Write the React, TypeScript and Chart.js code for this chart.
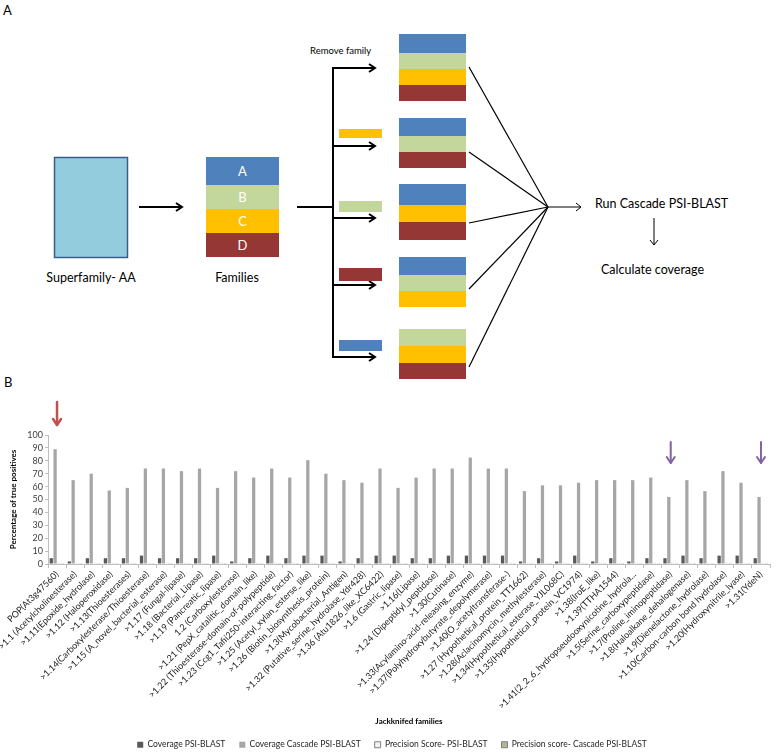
import React, { useEffect, useRef } from 'react';
import { Chart, registerables } from 'chart.js';
Chart.register(...registerables);

const families = [
  'POP(At3g47560)',
  '>1.1 (Acetylcholinesterase)',
  '>1.11(Epoxide_hydrolase)',
  '>1.12 (Haloperoxidase)',
  '>1.13(Thioesterases)',
  '>1.14(Carboxylesterase/Thioesterase)',
  '>1.15 (A_novel_bacterial_esterase)',
  '>1.17 (Fungal-lipase)',
  '>1.18 (Bacterial_Lipase)',
  '>1.19 (Pancreatic_lipase)',
  '1.2 (Carboxylesterase)',
  '>1.21 (PepX_catalitic_domain_like)',
  '>1.22 (Thioesterase-domain-of-polypeptide)',
  '>1.23 (Ccg1_Tafii250-interacting_factor)',
  '>1.25 (Acetyl_xylan_esterse_like)',
  '>1.26 (Biotin_biosynthesis_protein)',
  '>1.3(Mycobacterial_Antigen)',
  '>1.32 (Putative_serine_hydrolase_Ydr428)',
  '>1.36 (Atu1826_like_XC6422)',
  '>1.6 (Gastric_lipase)',
  '>1.16(Lipase)',
  '>1.24 (Dipeptidyl_peptidase)',
  '>1.30(Cutinase)',
  '>1.33(Acylamino-acid-releasing_enzyme)',
  '>1.37(Polyhydroxybutyrate_depolymerase)',
  '>1.40(O_acetyltransferase-)',
  '>1.27 (Hypothetical_protein_TT1662)',
  '>1.28(Aclacinomycin_methylesterase)',
  '>1.34(Hypothetical_esterase_YJL068C)',
  '>1.35(Hypothetical_protein_VC1974)',
  '>1.38(IroE_like)',
  '>1.39(TTHA1544)',
  '>1.41(2_2_6_hydropseudooxynicotine_hydrola...',
  '>1.5(Serine_carboxypeptidase)',
  '>1.7(Proline_iminopeptidase)',
  '>1.8(Haloalkane_dehalogenase)',
  '>1.9(Dienelactone_hydrolase)',
  '>1.10(Carbon-carbon bond hydrolase)',
  '>1.20(Hydroxynitrile_lyase)',
  '>1.31(YdeN)',
];

const coveragePsiBlast = [
  4.5, 2, 4.5, 4.5, 4.5, 6.5, 4.5, 4.5, 4.5, 6.5,
  2, 4.5, 6.5, 4.5, 6.5, 6.5, 2, 4.5, 6.5, 6.5,
  4.5, 4.5, 6.5, 6.5, 6.5, 6.5, 2, 4.5, 2, 6.5,
  2, 4.5, 2, 4.5, 4.5, 6.5, 4.5, 6.5, 6.5, 4.5,
];

const coverageCascade = [
  89, 65, 70, 57, 59, 74, 74, 72, 74, 59,
  72, 67, 74, 67, 80.5, 70, 65, 63, 74, 59,
  67, 74, 74, 82.5, 74, 74, 56.5, 61, 61, 63,
  65, 65, 65, 67, 52, 65, 56.5, 72, 63, 52,
];

const precisionPsiBlast = [
  1, 1, 1, 1, 1, 1, 1, 1, 1, 1,
  1, 1, 1, 1, 1, 1, 1, 1, 1, 1,
  1, 1, 1, 1, 1, 1, 1, 1, 1, 1,
  1, 1, 1, 1, 1, 1, 1, 1, 1, 1,
];

const precisionCascade = [
  0.8, 0.8, 0.8, 0.8, 0.8, 0.8, 0.8, 0.8, 0.8, 0.8,
  0.8, 0.8, 0.8, 0.8, 0.8, 0.8, 0.8, 0.8, 0.8, 0.8,
  0.8, 0.8, 0.8, 0.8, 0.8, 0.8, 0.8, 0.8, 0.8, 0.8,
  0.8, 0.8, 0.8, 0.8, 0.8, 0.8, 0.8, 0.8, 0.8, 0.8,
];

const seriesNames = [
  'Coverage PSI-BLAST',
  'Coverage Cascade PSI-BLAST',
  'Precision Score- PSI-BLAST',
  'Precision score- Cascade PSI-BLAST',
];

const redArrowFamilies = ['POP(At3g47560)'];
const purpleArrowFamilies = ['>1.7(Proline_iminopeptidase)', '>1.31(YdeN)'];

const FONT = 'Lato, "Liberation Sans", Arial, sans-serif';

function Diagram() {
  const arrowHead = (x: number, y: number, key: string, w = 2) => (
    <polyline key={key} points={`${x - 6},${y - 4} ${x},${y} ${x - 6},${y + 4}`} fill="none" stroke="#000" strokeWidth={w} />
  );
  const branchYs = [68, 146, 218, 285, 357];
  const stacks: { y: number; h: number; c: string }[][] = [
    [
      { y: 34, h: 19, c: '#4F81BD' },
      { y: 53, h: 16, c: '#C3D69B' },
      { y: 69, h: 16, c: '#FFC000' },
      { y: 85, h: 16, c: '#953735' },
    ],
    [
      { y: 118, h: 18, c: '#4F81BD' },
      { y: 136, h: 16, c: '#C3D69B' },
      { y: 152, h: 16, c: '#953735' },
    ],
    [
      { y: 184, h: 21, c: '#4F81BD' },
      { y: 205, h: 17, c: '#FFC000' },
      { y: 222, h: 18, c: '#953735' },
    ],
    [
      { y: 257, h: 18, c: '#4F81BD' },
      { y: 275, h: 16, c: '#C3D69B' },
      { y: 291, h: 16, c: '#FFC000' },
    ],
    [
      { y: 329, h: 17, c: '#C3D69B' },
      { y: 346, h: 17, c: '#FFC000' },
      { y: 363, h: 16, c: '#953735' },
    ],
  ];
  const stackMid = [67, 152, 223, 289, 367];
  return (
    <svg width={776} height={385} style={{ position: 'absolute', left: 0, top: 0 }} fontFamily={FONT}>
      <text x={3} y={15} fontSize={13} fill="#000">A</text>
      <rect x={54.5} y={157.5} width={73} height={100} fill="#93CDDD" stroke="#385D8A" strokeWidth={1.5} />
      <text x={91} y={282} fontSize={12.5} textAnchor="middle" fill="#000">Superfamily- AA</text>
      <line x1={139} y1={207} x2={181} y2={207} stroke="#000" strokeWidth={2} />
      {arrowHead(182, 207, 'a1')}
      <rect x={206} y={157} width={73} height={28} fill="#4F81BD" />
      <rect x={206} y={185} width={73} height={24} fill="#C3D69B" />
      <rect x={206} y={209} width={73} height={24} fill="#FFC000" />
      <rect x={206} y={233} width={73} height={24} fill="#953735" />
      <text x={242.5} y={176} fontSize={13} textAnchor="middle" fill="#fff">A</text>
      <text x={242.5} y={202} fontSize={13} textAnchor="middle" fill="#fff">B</text>
      <text x={242.5} y={226} fontSize={13} textAnchor="middle" fill="#fff">C</text>
      <text x={242.5} y={250} fontSize={13} textAnchor="middle" fill="#fff">D</text>
      <text x={237} y={282} fontSize={12.5} textAnchor="middle" fill="#000">Families</text>
      <line x1={297} y1={207} x2={333} y2={207} stroke="#000" strokeWidth={2} />
      <line x1={333} y1={67} x2={333} y2={358} stroke="#000" strokeWidth={2} />
      {branchYs.map((y, i) => (
        <g key={'b' + i}>
          <line x1={333} y1={y} x2={374} y2={y} stroke="#000" strokeWidth={2} />
          {arrowHead(375, y, 'h' + i)}
        </g>
      ))}
      <text x={310} y={54} fontSize={9.5} fill="#000">Remove family</text>
      <rect x={339} y={129} width={43} height={9} fill="#FFC000" />
      <rect x={339} y={201} width={43} height={11} fill="#C3D69B" />
      <rect x={339} y={268} width={43} height={13} fill="#953735" />
      <rect x={339} y={340} width={43} height={11} fill="#4F81BD" />
      {stacks.map((s, i) => (
        <g key={'s' + i}>
          {s.map((r, j) => (
            <rect key={j} x={399} y={r.y} width={67} height={r.h} fill={r.c} />
          ))}
          <line x1={469} y1={stackMid[i]} x2={548} y2={207} stroke="#000" strokeWidth={1.2} />
        </g>
      ))}
      <line x1={548} y1={207} x2={581} y2={207} stroke="#000" strokeWidth={1} />
      <polyline points="576,203 581,207 576,211" fill="none" stroke="#000" strokeWidth={1} />
      <text x={595} y={208} fontSize={12.5} fill="#000">Run Cascade PSI-BLAST</text>
      <line x1={654} y1={218} x2={654} y2={245} stroke="#000" strokeWidth={1} />
      <polyline points="650,240 654,245 658,240" fill="none" stroke="#000" strokeWidth={1} />
      <text x={601} y={274} fontSize={12.5} fill="#000">Calculate coverage</text>
    </svg>
  );
}

export default function App() {
  const ref = useRef<HTMLCanvasElement>(null);
  useEffect(() => {
    const canvas = ref.current;
    if (!canvas) return;
    const arrowPlugin = {
      id: 'highlightArrows',
      beforeDraw(chart: any) {
        const lg = chart.legend;
        if (lg && !lg._shifted) {
          lg.left += 7;
          lg.right += 7;
          lg._shifted = true;
        }
      },
      afterDatasetsDraw(chart: any) {
        const { ctx } = chart;
        const xs = chart.scales.x;
        const draw = (idx: number, color: string, y0: number, y1: number, w: number) => {
          const px = xs.getPixelForValue(idx);
          ctx.save();
          ctx.strokeStyle = color;
          ctx.lineWidth = w;
          ctx.lineCap = 'round';
          ctx.lineJoin = 'round';
          ctx.beginPath();
          ctx.moveTo(px, y0);
          ctx.lineTo(px, y1);
          ctx.stroke();
          ctx.beginPath();
          ctx.moveTo(px - 4, y1 - 6);
          ctx.lineTo(px, y1);
          ctx.lineTo(px + 4, y1 - 6);
          ctx.stroke();
          ctx.restore();
        };
        redArrowFamilies.forEach((f) => draw(families.indexOf(f), '#C0504D', 37, 60, 2.5));
        purpleArrowFamilies.forEach((f) => draw(families.indexOf(f), '#8064A2', 77, 98, 2));
      },
    };
    const chart = new Chart(canvas, {
      type: 'bar',
      data: {
        labels: families,
        datasets: [
          { label: seriesNames[0], data: coveragePsiBlast, backgroundColor: '#595959', borderWidth: 0 },
          { label: seriesNames[1], data: coverageCascade, backgroundColor: '#A6A6A6', borderWidth: 0 },
          { label: seriesNames[2], data: precisionPsiBlast, backgroundColor: '#F2F2F2', borderColor: '#7F7F7F', borderWidth: 1 },
          { label: seriesNames[3], data: precisionCascade, backgroundColor: '#B5B394', borderColor: '#7F7F7F', borderWidth: 1 },
        ],
      },
      options: {
        animation: false,
        responsive: false,
        maintainAspectRatio: false,
        datasets: { bar: { categoryPercentage: 0.85, barPercentage: 0.85 } },
        layout: { padding: { top: 70, right: 6, left: 0, bottom: 0 } },
        plugins: {
          tooltip: { enabled: false },
          legend: {
            position: 'bottom',
            labels: {
              boxWidth: 6,
              boxHeight: 6,
              padding: 14,
              color: '#262626',
              font: { family: FONT, size: 8.5 },
            },
          },
        },
        scales: {
          x: {
            grid: { drawOnChartArea: false, drawTicks: true, tickLength: 4, color: '#BFBFBF', offset: true },
            border: { color: '#BFBFBF' },
            ticks: {
              autoSkip: false,
              minRotation: 45,
              maxRotation: 45,
              padding: 1,
              color: '#1A1A1A',
              font: { family: FONT, size: 9 },
            },
            title: {
              display: true,
              text: 'Jackknifed families',
              color: '#000',
              font: { family: FONT, size: 8, weight: 'bold' },
              padding: { top: 0, bottom: 0 },
            },
            afterFit: (s: any) => {
              s.height = 162.5;
            },
          },
          y: {
            min: 0,
            max: 100,
            grid: { drawOnChartArea: false, drawTicks: true, tickLength: 3, color: '#BFBFBF' },
            border: { color: '#BFBFBF' },
            ticks: {
              stepSize: 10,
              autoSkip: false,
              padding: 2,
              color: '#404040',
              font: { family: FONT, size: 9 },
            },
            title: {
              display: true,
              text: 'Percentage of true positives',
              color: '#000',
              font: { family: FONT, size: 8, weight: 'bold' },
              padding: { top: 9, bottom: 0 },
            },
            afterFit: (s: any) => {
              s.width = 48;
            },
          },
        },
      },
      plugins: [arrowPlugin],
    } as any);
    return () => chart.destroy();
  }, []);

  return (
    <div style={{ position: 'absolute', left: 0, top: 0, width: 776, height: 753, overflow: 'hidden', background: '#fff' }}>
      <Diagram />
      <div style={{ position: 'absolute', left: 4, top: 374, fontFamily: FONT, fontSize: 13, color: '#000' }}>B</div>
      <canvas ref={ref} width={776} height={394} style={{ position: 'absolute', left: 0, top: 365, width: 776, height: 394 }} />
    </div>
  );
}
